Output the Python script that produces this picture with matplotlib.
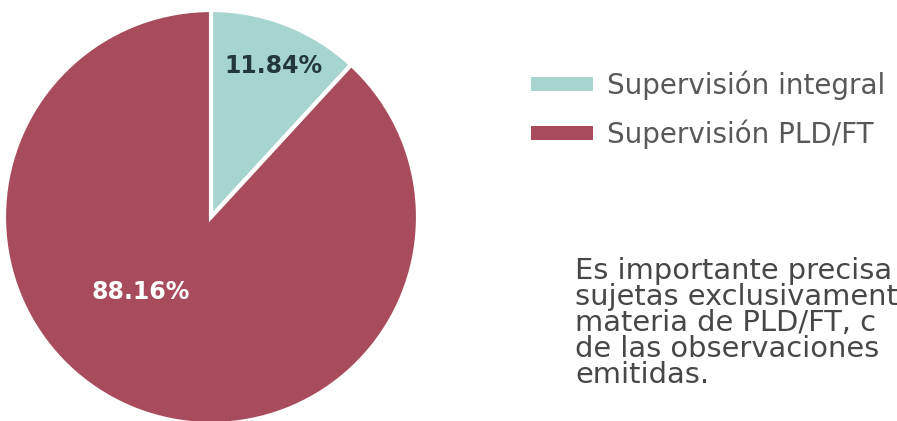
import matplotlib.pyplot as plt
from matplotlib.patches import Rectangle

labels = ["Supervisión integral", "Supervisión PLD/FT"]
shares = [11.84, 88.16]
colors = ["#a6d4ce", "#a84b5d"]
note_lines = [
    "Es importante precisa",
    "sujetas exclusivament",
    "materia de PLD/FT, c",
    "de las observaciones",
    "emitidas.",
]

W, H = 897, 421
fig = plt.figure(figsize=(W / 100, H / 100), dpi=100)
fig.patch.set_facecolor("white")
plt.rcParams["font.family"] = "DejaVu Sans"


def fx(px):
    return px / W


def fy(py):
    # pixel rows counted from the top
    return 1 - py / H


# pie: centre (211, 217), radius 207 px
cx, cy, r = 211, H - 217, 207
ax = fig.add_axes([(cx - r) / W, (cy - r) / H, 2 * r / W, 2 * r / H])
ax.pie(shares, colors=colors, startangle=90, counterclock=False,
       wedgeprops=dict(edgecolor="white", linewidth=3))
ax.set_aspect("equal")
ax.set_xlim(-1, 1)
ax.set_ylim(-1, 1)

ax.text(0.304, 0.73, f"{shares[0]:.2f}%", ha="center", va="center",
        fontsize=17, fontweight="bold", color="#22383a")
ax.text(-0.338, -0.362, f"{shares[1]:.2f}%", ha="center", va="center",
        fontsize=17, fontweight="bold", color="white")

# legend: swatch + label per series
for i, (lab, col) in enumerate(zip(labels, colors)):
    yc = 84 + i * 49
    fig.patches.append(Rectangle((fx(531), fy(yc + 7)), 62 / W, 14 / H,
                                 transform=fig.transFigure, facecolor=col,
                                 edgecolor="none"))
    fig.text(fx(607), fy(yc + 10), lab, ha="left", va="baseline",
             fontsize=20, color="#585858")

for i, line in enumerate(note_lines):
    fig.text(fx(575), fy(279 + i * 26), line, ha="left", va="baseline",
             fontsize=20.8, color="#474747")

fig.savefig("out.png", dpi=100, facecolor="white")
